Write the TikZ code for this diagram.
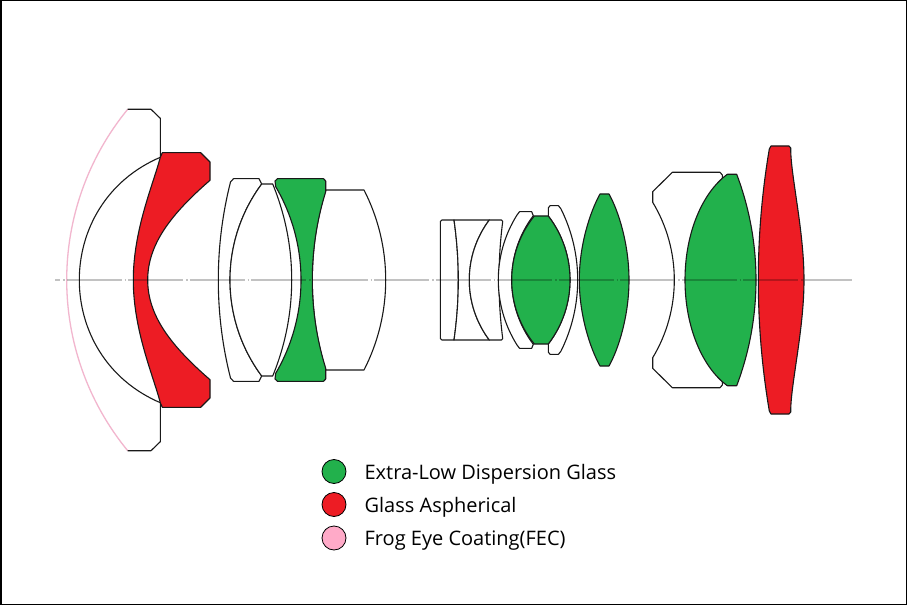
\documentclass[tikz,border=0pt]{standalone}
\usepackage{fontspec}
\setmainfont{Open Sans}
\usetikzlibrary{positioning}
\definecolor{edgreen}{RGB}{34,177,76}
\definecolor{asred}{RGB}{237,28,36}
\definecolor{fecpink}{RGB}{255,170,200}
\definecolor{fecline}{RGB}{242,182,206}
\tikzstyle{glass}=[draw=black!90,fill=white,line width=1.1pt,line join=round]
\tikzstyle{edglass}=[glass,fill=edgreen]
\tikzstyle{asglass}=[glass,fill=asred]
\tikzstyle{swatch}=[circle,draw=black,line width=0.8pt,minimum size=24pt,inner sep=0pt]
\tikzstyle{keytext}=[font=\fontsize{20}{24}\selectfont,inner sep=0pt,text height=18pt,text depth=3pt]
% surface from (x,h) through (vertex,0) to (x,-h)
\newcommand{\bow}[3]{.. controls ({#1+(#2-#1)*4/3},{(#3)/3+2/3*(#2-#1)*(#2-#1)/(#3)}) and ({#1+(#2-#1)*4/3},{-(#3)/3-2/3*(#2-#1)*(#2-#1)/(#3)}) .. ({#1},{-(#3)})}

\begin{document}
\begin{tikzpicture}[x=1pt,y=1pt]

  \draw[black,line width=1.5pt,fill=white] (0.75,279.25) rectangle (906.25,-324.25);

  % front group
  \fill[white] (127.7,170.7) -- (151,170.7) -- (160.3,161.7) -- (160.3,-161.7) -- (151,-170.7) -- (127.7,-170.7) \bow{127.7}{66.7}{-170.7} -- cycle;
  \draw[fecline,line width=1.3pt] (127.7,170.7) \bow{127.7}{66.7}{170.7};
  \draw[glass,fill=none] (127.7,170.7) -- (151,170.7) -- (160.3,161.7) -- (160.3,122.7) \bow{160.3}{79.3}{122.7} -- (160.3,-161.7) -- (151,-170.7) -- (127.7,-170.7);
  \draw[asglass] (160.3,122.7) -- (162.3,127.3) -- (200.7,127.3) -- (210,118) -- (210,99.7)
    .. controls (170,65) and (147.7,35) .. (147.7,0) .. controls (147.7,-35) and (170,-65) .. (210,-99.7)
    -- (210,-118) -- (200.7,-127.3) -- (162.3,-127.3) -- (160.3,-122.7)
    .. controls (153,-95) and (133.3,-50) .. (133.3,0) .. controls (133.3,50) and (153,95) .. cycle;

  % second group
  \draw[glass] (233.5,101.3) -- (259,101.3) -- (261.7,96) \bow{261.7}{230}{96} -- (259,-101.3) -- (233.5,-101.3) -- (230.5,-98) \bow{230.5}{218.3}{-98} -- cycle;
  \draw[glass] (261.7,96) -- (272.7,96) \bow{272.7}{291.7}{96} -- (261.7,-96) \bow{261.7}{230}{-96} -- cycle;
  \draw[glass] (325.7,90) -- (364,90) \bow{364}{385.7}{90} -- (325.7,-90) \bow{325.7}{312.3}{-90} -- cycle;
  \draw[edglass] (275.7,93.3) -- (275,99) -- (277.5,101.3) -- (323.5,101.3) -- (325.7,99) -- (325.7,88.3) \bow{325.7}{312.3}{88.3} -- (325.7,-99) -- (323.5,-101.3) -- (277.5,-101.3) -- (275,-99) -- (275.7,-93.3) \bow{275.7}{301}{-93.3} -- cycle;

  % third group
  \draw[glass] (442,60) -- (454,60) \bow{454}{458.3}{60} -- (442,-60) -- (440.3,-58.5) -- (440.3,58.5) -- cycle;
  \draw[glass] (454,60) -- (489.3,60) \bow{489.3}{469.3}{60} -- (454,-60) \bow{454}{458.3}{-60} -- cycle;
  \draw[glass] (489.3,60) -- (501.5,60) -- (502.7,58.5) \bow{502.7}{499}{58.5} -- (501.5,-60) -- (489.3,-60) \bow{489.3}{469.3}{-60} -- cycle;
  \draw[glass] (519.5,68.3) -- (531.7,68.3) -- (533.3,64.3) \bow{533.3}{511.7}{64.3} -- (531.7,-68.3) -- (519.5,-68.3) -- (517,-65) \bow{517}{498.3}{-65} -- cycle;
  \draw[glass] (550,74.3) -- (558.5,74.3) -- (561,71) \bow{561}{577.7}{71} -- (558.5,-74.3) -- (550,-74.3) -- (548.3,-72) -- (548.3,-64) \bow{548.3}{570}{-64} -- (548.3,72) -- cycle;
  \draw[edglass] (534.3,64) -- (548.3,64) \bow{548.3}{570}{64} -- (534.3,-64) \bow{534.3}{511.7}{-64} -- cycle;
  \draw[edglass] (600,86) -- (609,86) .. controls (619,68) and (629,35) .. (629,0) .. controls (629,-35) and (619,-68) .. (609,-86) -- (600,-86) .. controls (590,-68) and (579.3,-35) .. (579.3,0) .. controls (579.3,35) and (590,68) .. cycle;

  % rear group
  \draw[glass] (672.3,107.7) -- (720,107.7) -- (722.3,105) -- (722.3,102) \bow{722.3}{700}{102} -- (722.3,-105) -- (720,-107.7) -- (672.3,-107.7) -- (652.7,-88.3) -- (652.7,-77.7) \bow{652.7}{674.3}{-77.7} -- (652.7,88.3) -- cycle;
  \draw[edglass] (727.3,105.7) -- (736.7,105.7) \bow{736.7}{756}{105.7} -- (727.3,-105.7) .. controls (703,-88) and (685,-48) .. (685,0) .. controls (685,48) and (703,88) .. cycle;
  \draw[asglass] (771,134) -- (789,134) -- (790.7,132) .. controls (790.5,105) and (804,50) .. (804,0) .. controls (804,-50) and (790.5,-105) .. (790.7,-132) -- (789,-134) -- (771,-134) -- (769.3,-131) \bow{769.3}{758.3}{-131} -- cycle;

  % axis
  \draw[black!24,line width=1.5pt,blend mode=multiply,dash pattern=on 55pt off 3pt on 1.5pt off 2pt,dash phase=50pt] (55,0) -- (852,0);

  \foreach \name/\lbl/\col/\y in {ed/Extra-Low Dispersion Glass/edgreen/-191.5, as/Glass Aspherical/asred/-224.5, fec/Frog Eye Coating(FEC)/fecpink/-258}
  {
    \node[swatch,fill=\col] (K-\name) at (334,\y) {};
    \node[keytext,right=18pt of K-\name] (T-\name) {\lbl};
  }

\end{tikzpicture}
\end{document}
